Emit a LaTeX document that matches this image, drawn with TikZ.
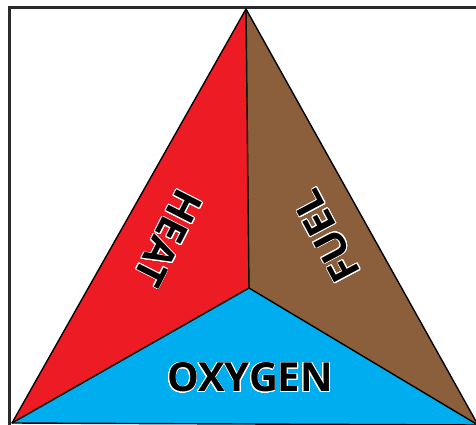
\documentclass[tikz,border=0pt]{standalone}
\usepackage{fontspec}
\setmainfont{Open Sans}
\usepackage{contour}
\usetikzlibrary{positioning,calc}
\definecolor{heatred}{HTML}{ED1C24}
\definecolor{fuelbrown}{HTML}{8B5E3C}
\definecolor{oxyblue}{HTML}{00AEEF}
\definecolor{frame}{HTML}{2B2B2B}
\contourlength{0.8pt}
\contournumber{24}
\tikzset{
  side/.style={draw=black, line width=1.4pt, line join=round},
  label/.style={font=\fontsize{40}{40}\selectfont\bfseries, text=black, inner sep=0pt},
  border/.style={draw=frame, line width=2.4pt}
}
\begin{document}
\begin{tikzpicture}[x=1pt,y=-1pt]
  \useasboundingbox (0,0) rectangle (476,425);
  \draw[border] (9.5,7.5) rectangle (495,445);
  % corners of the triangle
  \coordinate (apex) at (246,9);
  \coordinate (left) at (12,423);
  \coordinate (right) at (478,425);
  \coordinate (mid) at (249,288);
  \fill[heatred] (apex) -- (mid) -- (left) -- cycle;
  \fill[fuelbrown] (apex) -- (right) -- (mid) -- cycle;
  \fill[oxyblue] (left) -- (mid) -- (right) -- cycle;
  \draw[side] (apex) -- (left) -- (right) -- cycle;
  \draw[side] (apex) -- (mid) (left) -- (mid) -- (right);
  % texts
  \node[label, rotate=-117] (heat) at (168,238) {\contour{white}{HEAT}};
  \node[label, rotate=118] (fuel) at (327,236) {\contour{white}{FUEL}};
  \node[label] (oxygen) at (250,378) {\contour{white}{OXYGEN}};
\end{tikzpicture}
\end{document}
